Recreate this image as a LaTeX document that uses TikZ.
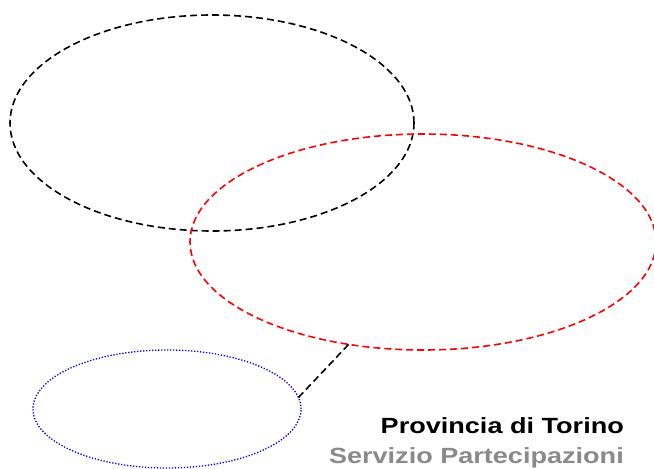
\documentclass[tikz,border=0pt]{standalone}
\usepackage{fontspec}
\usepackage{xcolor}
\usepackage{tikz}
\usetikzlibrary{shapes.geometric}
\usetikzlibrary{positioning}
\newfontfamily\titlefont[FakeStretch=1.23]{Liberation Sans}
\definecolor{servgray}{RGB}{138,138,138}

\begin{document}
\begin{tikzpicture}[x=1pt,y=-1pt,line cap=butt,line join=round,
  bubble/.style={ellipse,inner sep=0pt,outer sep=0pt,line width=1.6pt},
  dashbubble/.style={bubble,dash pattern=on 7pt off 4pt},
  dotbubble/.style={bubble,line width=1.3pt,dash pattern=on 1.3pt off 1.7pt}]
\useasboundingbox (0,0) rectangle (654,469);
\clip (0,0) rectangle (654,469);
% \draw[step=50,gray,very thin] (0,0) grid (654,469);

\node[dashbubble,draw=black,minimum width=404pt,minimum height=216pt] (top) at (212,123) {};
\node[dashbubble,draw=red,minimum width=466pt,minimum height=216pt] (mid) at (423,242) {};
\node[dotbubble,draw=blue,minimum width=268pt,minimum height=118pt] (low) at (167,409) {};

\draw [line width=1.6pt,dash pattern=on 7pt off 4pt] (low.5) -- (mid.234);

{\titlefont\fontsize{22}{26}\selectfont\bfseries
\node[anchor=base east,inner sep=0pt,text=black] (prov) at (624,433) {Provincia di Torino};
\node[anchor=base east,inner sep=0pt,text=servgray] (serv) at (624,463) {Servizio Partecipazioni};
}
\end{tikzpicture}
\end{document}
